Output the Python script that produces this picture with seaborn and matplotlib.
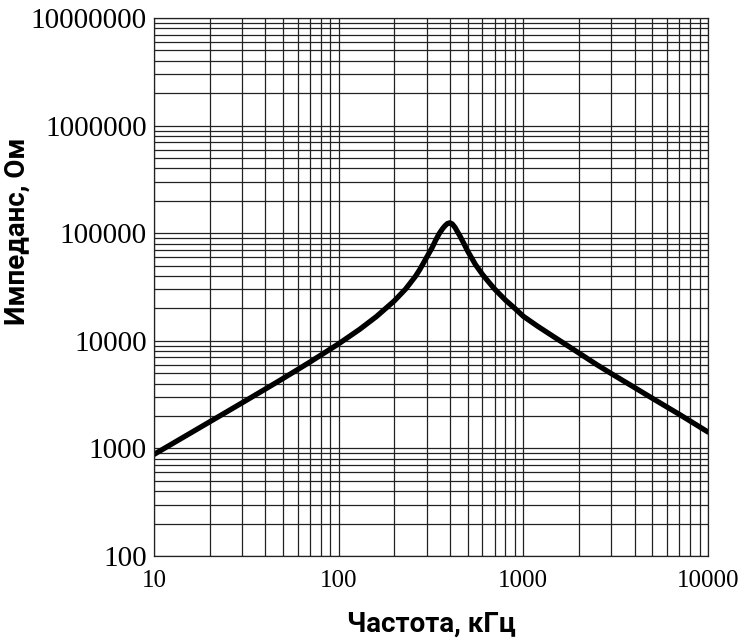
import matplotlib.pyplot as plt
import matplotlib.ticker as mticker
import pandas as pd
import seaborn as sns

# frequency, kHz and impedance, Ohm
freq_khz = [10, 15, 20, 30, 40, 50, 70, 100, 130, 160, 200, 230, 260, 275,
            300, 320, 335, 350, 365, 376, 388, 400, 412, 427, 440, 454, 475,
            500, 550, 600, 650, 700, 800, 900, 1000, 1200, 1500, 2000, 2500,
            3000, 4000, 5000, 7000, 10000]
impedance_ohm = [880, 1322, 1765, 2655, 3555, 4470, 6360, 9390, 12800, 16800,
                 23500, 30200, 39600, 46000, 60000, 73000, 86000, 99000,
                 110000, 117000, 123000, 125000, 122000, 113000, 103000, 94000,
                 81000, 68000, 51200, 41500, 35100, 30200, 23900, 20000, 16900,
                 13600, 10600, 7700, 6000, 4950, 3680, 2920, 2070, 1420]

x_ticks = [10, 100, 1000, 10000]
y_ticks = [100, 1000, 10000, 100000, 1000000, 10000000]

df = pd.DataFrame({"f": freq_khz, "z": impedance_ohm})

sns.set_theme(style="white")
plt.rcParams["font.family"] = ["Liberation Serif", "DejaVu Serif"]

fig = plt.figure(figsize=(7.49, 6.44), dpi=100)
ax = fig.add_axes([0.2056, 0.1366, 0.7397, 0.8354])

sns.lineplot(data=df, x="f", y="z", color="black", linewidth=3.8, ax=ax)

ax.set_xscale("log")
ax.set_yscale("log")
ax.set_xlim(10, 10000)
ax.set_ylim(100, 10000000)

ax.xaxis.set_major_locator(mticker.FixedLocator(x_ticks))
ax.yaxis.set_major_locator(mticker.FixedLocator(y_ticks))
ax.xaxis.set_minor_locator(mticker.LogLocator(base=10, subs=range(2, 10)))
ax.yaxis.set_minor_locator(mticker.LogLocator(base=10, subs=range(2, 10)))
plain = mticker.FuncFormatter(lambda v, _: f"{int(round(v))}")
ax.xaxis.set_major_formatter(plain)
ax.yaxis.set_major_formatter(plain)
ax.xaxis.set_minor_formatter(mticker.NullFormatter())
ax.yaxis.set_minor_formatter(mticker.NullFormatter())

ax.grid(True, which="both", color="#222222", linewidth=0.9)
for sp in ax.spines.values():
    sp.set_color("#222222")
    sp.set_linewidth(0.9)

ax.tick_params(which="both", length=0)
ax.tick_params(axis="x", labelsize=18, pad=10, colors="black")
ax.tick_params(axis="y", labelsize=21, pad=5, colors="black")

ax.set_xlabel("Частота, кГц", family=["Roboto", "DejaVu Sans"],
              fontweight="bold", fontsize=20, color="black")
ax.set_ylabel("Импеданс, Ом", family=["Roboto", "DejaVu Sans"],
              fontweight="bold", fontsize=20, color="black")
ax.xaxis.set_label_coords(0.5, -0.102)
ax.yaxis.set_label_coords(-0.222, 0.604)

fig.savefig("out.png", dpi=100)
